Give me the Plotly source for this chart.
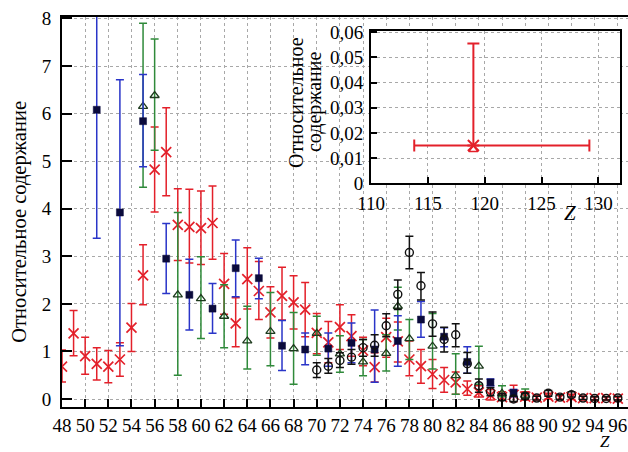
import plotly.graph_objects as go

# ---------------- data ----------------
red_z = list(range(48, 97))
red_val = [0.68, 1.38, 0.90, 0.74, 0.68, 0.83, 1.50, 2.60, 4.82, 5.19,
           3.66, 3.62, 3.59, 3.70, 2.42, 1.59, 2.52, 2.27, 1.82, 2.17,
           2.03, 1.88, 1.39, 1.19, 1.51, 1.32, 1.02, 0.67, 1.30, 1.21,
           0.83, 0.69, 0.52, 0.40, 0.35, 0.21, 0.14, 0.08, 0.04, 0.09,
           0.05, 0.03, 0.05, 0.03, 0.04, 0.02, 0.02, 0.02, 0.01]
red_lo = [0.36, 0.91, 0.52, 0.40, 0.34, 0.48, 1.00, 1.98, 3.93, 4.27,
          2.91, 2.86, 2.83, 2.94, 1.78, 1.10, 1.89, 1.67, 1.28, 1.66,
          1.47, 1.31, 0.95, 0.76, 1.04, 0.90, 0.70, 0.36, 0.88, 0.78,
          0.49, 0.33, 0.22, 0.14, 0.10, 0.08, 0.04, -0.02, -0.02, -0.06,
          -0.02, -0.02, 0.00, -0.01, -0.01, -0.02, -0.02, -0.02, -0.02]
red_hi = [1.03, 1.86, 1.30, 1.08, 1.02, 1.18, 2.01, 3.24, 5.72, 6.12,
          4.42, 4.41, 4.37, 4.48, 3.06, 2.13, 3.18, 2.89, 2.36, 2.77,
          2.59, 2.45, 1.80, 1.63, 1.98, 1.77, 1.30, 0.97, 1.70, 1.62,
          1.22, 1.04, 0.83, 0.66, 0.57, 0.38, 0.28, 0.20, 0.15, 0.29,
          0.15, 0.08, 0.12, 0.08, 0.10, 0.06, 0.05, 0.05, 0.04]

blue_z = [51, 53, 55, 57, 59, 61, 63, 65, 67, 69, 71, 73, 75, 77, 79, 81, 83, 85, 87]
blue_val = [6.08, 3.92, 5.84, 2.95, 2.19, 1.90, 2.75, 2.54, 1.12, 1.04,
            1.06, 1.18, 1.04, 1.22, 1.67, 1.31, 0.78, 0.35, 0.13]
blue_lo = [3.38, 1.12, 4.88, 2.22, 1.45, 1.38, 2.15, 2.11, 0.60, 0.72,
           0.69, 0.76, 0.35, 0.69, 1.30, 1.10, 0.54, 0.28, 0.05]
blue_hi = [8.80, 6.71, 6.82, 3.69, 2.94, 2.43, 3.34, 2.96, 1.65, 1.39,
           1.39, 1.60, 1.87, 1.75, 2.05, 1.50, 1.10, 0.42, 0.20]

green_z = [55, 56, 58, 60, 62, 64, 66, 68, 70, 72, 74, 76, 77, 78, 80, 82, 84, 86, 88]
green_val = [6.15, 6.38, 2.19, 2.11, 1.74, 1.22, 1.42, 1.06, 1.38, 0.95,
             0.78, 0.96, 1.95, 1.27, 1.11, 0.49, 0.69, 0.12, 0.08]
green_lo = [4.45, 5.23, 0.50, 1.27, 1.08, 0.63, 0.70, 0.31, 0.92, 0.56,
            0.49, 0.59, 1.45, 0.83, 0.63, 0.10, 0.31, 0.05, 0.02]
green_hi = [7.90, 7.57, 3.92, 2.99, 2.40, 1.95, 2.24, 1.82, 1.74, 1.33,
            1.25, 1.35, 2.35, 1.67, 1.80, 0.95, 1.11, 0.28, 0.21]

black_z = list(range(70, 97))
black_val = [0.61, 0.69, 0.81, 0.88, 1.08, 1.13, 1.54, 2.20, 3.08, 2.38,
             1.58, 1.25, 1.35, 0.74, 0.28, 0.15, 0.04, 0.00, 0.06, 0.02,
             0.12, 0.04, 0.09, 0.02, 0.01, 0.01, 0.02]
black_lo = [0.45, 0.54, 0.66, 0.73, 0.90, 0.90, 1.31, 1.88, 2.74, 2.08,
            1.32, 0.99, 1.10, 0.54, 0.14, 0.07, -0.03, -0.05, 0.00, -0.02,
            0.06, -0.01, 0.04, -0.01, -0.02, -0.02, -0.02]
black_hi = [0.76, 0.85, 0.97, 1.04, 1.25, 1.35, 1.79, 2.50, 3.42, 2.66,
            1.83, 1.51, 1.58, 0.98, 0.42, 0.24, 0.11, 0.06, 0.12, 0.06,
            0.18, 0.09, 0.15, 0.06, 0.05, 0.05, 0.06]

x_ticks = list(range(48, 97, 2))
y_ticks = list(range(0, 9))

# inset
inset_z = [119]
inset_val = [0.015]
inset_hi = [0.0555]
inset_lo = [0.015]
inset_zlo = [113.8]
inset_zhi = [129.2]
inset_tri_val = [0.0134]
inset_xticks = [110, 115, 120, 125, 130]
inset_yticks = [0, 0.01, 0.02, 0.03, 0.04, 0.05, 0.06]
inset_yticktext = ["0", "0,01", "0,02", "0,03", "0,04", "0,05", "0,06"]

RED = "#e3202a"
BLUE = "#2a35c8"
NAVY = "#0b0b3c"
GREEN = "#2f8a3a"
BLACK = "#111111"
FONT = "Liberation Serif"


def err(val, lo, hi):
    return [h - v for v, h in zip(val, hi)], [v - l for v, l in zip(val, lo)]


fig = go.Figure()

def add_series(z, val, lo, hi, ecolor, symbol, mcolor, mline, size, lw=1.4):
    plus, minus = err(val, lo, hi)
    fig.add_trace(go.Scatter(
        x=z, y=val, mode="markers",
        marker=dict(symbol=symbol, size=size, color=mcolor,
                    line=dict(color=mline, width=lw)),
        error_y=dict(type="data", symmetric=False, array=plus, arrayminus=minus,
                     color=ecolor, thickness=1.5, width=4),
        showlegend=False, xaxis="x", yaxis="y"))

add_series(red_z, red_val, red_lo, red_hi, RED, "x-thin", RED, RED, 10, 1.7)
add_series(green_z, green_val, green_lo, green_hi, GREEN, "triangle-up-open", "#1d3a1d", "#1d3a1d", 8, 1.3)
add_series(blue_z, blue_val, blue_lo, blue_hi, BLUE, "square", NAVY, NAVY, 7, 0.5)
add_series(black_z, black_val, black_lo, black_hi, BLACK, "circle-open", BLACK, BLACK, 8, 1.4)

# inset traces
ip, im = err(inset_val, inset_lo, inset_hi)
xp, xm = err(inset_z, inset_zlo, inset_zhi)
fig.add_trace(go.Scatter(
    x=inset_z, y=inset_val, mode="markers",
    marker=dict(symbol="x-thin", size=11, color=RED, line=dict(color=RED, width=2)),
    error_y=dict(type="data", symmetric=False, array=ip, arrayminus=im,
                 color=RED, thickness=2, width=6),
    error_x=dict(type="data", symmetric=False, array=xp, arrayminus=xm,
                 color=RED, thickness=2, width=6),
    showlegend=False, xaxis="x2", yaxis="y2"))
fig.add_trace(go.Scatter(
    x=inset_z, y=inset_tri_val, mode="markers",
    marker=dict(symbol="triangle-up-open", size=8, color=RED, line=dict(color=RED, width=1.6)),
    showlegend=False, xaxis="x2", yaxis="y2"))

grid = dict(showgrid=True, gridcolor="#a8a8a8", griddash="dot", gridwidth=1)
tf19 = dict(family=FONT, size=19, color="black")

fig.update_layout(
    width=628, height=452,
    margin=dict(l=62, r=0, t=17, b=45),
    paper_bgcolor="white", plot_bgcolor="white",
    font=dict(family=FONT, size=19, color="black"),
    xaxis=dict(range=[48, 96.88], tickmode="array", tickvals=x_ticks,
               ticks="inside", ticklen=8, tickwidth=1.5, tickcolor="black",
               showline=True, linecolor="black", linewidth=2, mirror=True,
               zeroline=False, tickangle=0, tickfont=tf19,
               ticklabelstandoff=0, **grid),
    yaxis=dict(range=[-0.168, 8.03], tickmode="array", tickvals=y_ticks,
               ticks="inside", ticklen=10, tickwidth=1.5, tickcolor="black",
               showline=True, linecolor="black", linewidth=2, mirror=False,
               zeroline=False, tickfont=tf19, ticklabelstandoff=5, **grid),
    xaxis2=dict(domain=[0.546, 0.986], anchor="y2", range=[110, 131.9],
                tickmode="array", tickvals=inset_xticks,
                ticks="inside", ticklen=6, tickwidth=1.5, tickcolor="black",
                showline=True, linecolor="black", linewidth=2, mirror=True,
                zeroline=False, tickfont=tf19, ticklabelstandoff=2, **grid),
    yaxis2=dict(domain=[0.574, 0.964], anchor="x2", range=[0, 0.0605],
                tickmode="array", tickvals=inset_yticks, ticktext=inset_yticktext,
                ticks="inside", ticklen=6, tickwidth=1.5, tickcolor="black",
                showline=True, linecolor="black", linewidth=2, mirror=True,
                zeroline=False, tickfont=tf19, ticklabelstandoff=2, **grid),
    annotations=[
        dict(text="Относительное содержание", xref="paper", yref="paper",
             x=-0.0742, y=0.475, showarrow=False, textangle=-90,
             xanchor="center", yanchor="middle",
             font=dict(family=FONT, size=20.5, color="black")),
        dict(text="<i>Z</i>", xref="paper", yref="paper",
             x=0.960, y=-0.1154, showarrow=False, borderpad=0,
             xanchor="center", yanchor="bottom",
             font=dict(family=FONT, size=17, color="black")),
        dict(text="Относительное", xref="paper", yref="paper",
             x=0.4134, y=0.782, showarrow=False, textangle=-90,
             xanchor="center", yanchor="middle",
             font=dict(family=FONT, size=20, color="black")),
        dict(text="содержание", xref="paper", yref="paper",
             x=0.4452, y=0.782, showarrow=False, textangle=-90,
             xanchor="center", yanchor="middle",
             font=dict(family=FONT, size=20, color="black")),
        dict(text="<i>Z</i>", xref="paper", yref="paper",
             x=0.8975, y=0.497, showarrow=False,
             xanchor="center", yanchor="middle",
             font=dict(family=FONT, size=21, color="black")),
    ],
)

fig.write_html("out.html",
               config={"displayModeBar": False},
               post_script="document.body.style.margin='0px';"
                           "document.documentElement.style.margin='0px';")
